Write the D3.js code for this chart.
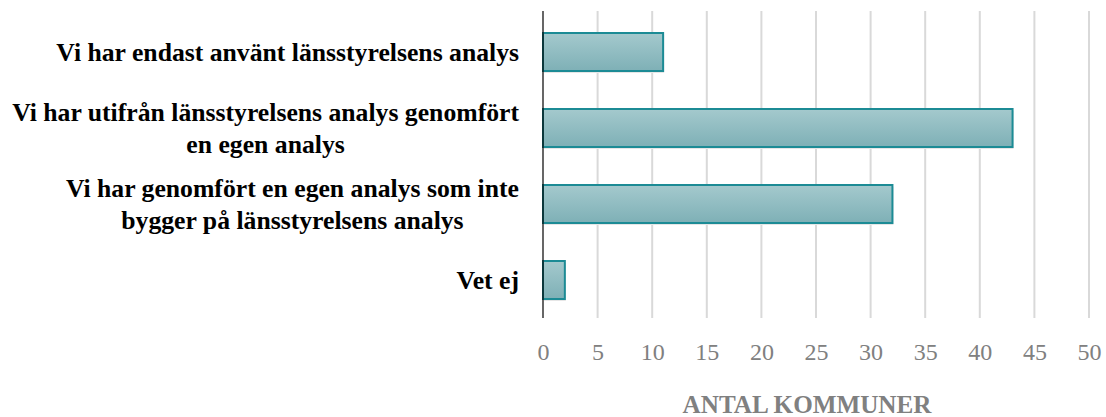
<!DOCTYPE html>
<html>
<head>
<meta charset="utf-8">
<script src="https://cdn.jsdelivr.net/npm/d3@7"></script>
<style>
  body { margin: 0; background: #fff; }
  text { font-family: "Liberation Serif", "DejaVu Serif", serif; }
</style>
</head>
<body>
<div id="chart"></div>
<script>
// chart data
var categories = [
  ["Vi har endast använt länsstyrelsens analys"],
  ["Vi har utifrån länsstyrelsens analys genomfört", "en egen analys"],
  ["Vi har genomfört en egen analys som inte", "bygger på länsstyrelsens analys"],
  ["Vet ej"]
];
var values = [11, 43, 32, 2];
var tickValues = [0, 5, 10, 15, 20, 25, 30, 35, 40, 45, 50];
var axisTitle = "ANTAL KOMMUNER";

var svgWidth = 1106;
var svgHeight = 417;

var margin = { top: 11, right: 17, bottom: 99, left: 543 };
var width = svgWidth - margin.left - margin.right;
var height = svgHeight - margin.top - margin.bottom;

var svg = d3.select("#chart")
  .append("svg")
  .attr("width", svgWidth)
  .attr("height", svgHeight);

// bar gradient
var defs = svg.append("defs");
var grad = defs.append("linearGradient")
  .attr("id", "barGrad")
  .attr("x1", 0).attr("y1", 0).attr("x2", 0).attr("y2", 1);
grad.append("stop").attr("offset", "0%").attr("stop-color", "#a4c9cd");
grad.append("stop").attr("offset", "100%").attr("stop-color", "#7eb0b6");

var chartGroup = svg.append("g")
  .attr("transform", `translate(${margin.left}, ${margin.top})`);

var xScale = d3.scaleLinear()
  .domain([0, 50])
  .range([0, width]);

var yScale = d3.scaleBand()
  .domain(d3.range(categories.length))
  .range([3, height])
  .paddingInner(0.5)
  .paddingOuter(0.25);

// gridlines
chartGroup.append("g")
  .selectAll("line")
  .data(tickValues.filter(d => d > 0))
  .enter()
  .append("line")
  .attr("x1", d => xScale(d))
  .attr("x2", d => xScale(d))
  .attr("y1", 0)
  .attr("y2", height)
  .attr("stroke", "#d9d9d9")
  .attr("stroke-width", 2);

// x tick labels via axis
var bottomAxis = d3.axisBottom(xScale)
  .tickValues(tickValues)
  .tickSize(0)
  .tickPadding(0);

var xAxisG = chartGroup.append("g")
  .attr("transform", `translate(0, ${height})`)
  .call(bottomAxis);
xAxisG.select(".domain").remove();
xAxisG.selectAll("text")
  .attr("y", 34)
  .attr("dy", "0.35em")
  .attr("font-size", 24)
  .attr("fill", "#808080");

// bars
var bars = chartGroup.selectAll(".bar")
  .data(values)
  .enter()
  .append("g")
  .attr("class", "bar");

bars.append("rect")
  .attr("x", 1)
  .attr("y", (d, i) => yScale(i) + 2)
  .attr("width", d => xScale(d))
  .attr("height", yScale.bandwidth())
  .attr("fill", "#e6e6e6");

bars.append("rect")
  .attr("x", 0)
  .attr("y", (d, i) => yScale(i))
  .attr("width", d => xScale(d))
  .attr("height", yScale.bandwidth())
  .attr("fill", "url(#barGrad)")
  .attr("stroke", "#1c8b95")
  .attr("stroke-width", 2);

// vertical axis line
chartGroup.append("line")
  .attr("x1", 0).attr("x2", 0)
  .attr("y1", 0).attr("y2", height)
  .attr("stroke", "#000")
  .attr("stroke-width", 1.2);

// category labels
var labelFont = 19;
var lineGap = 32;
var labels = chartGroup.selectAll(".cat")
  .data(categories)
  .enter()
  .append("text")
  .attr("class", "cat")
  .attr("font-size", labelFont)
  .attr("font-weight", "bold")
  .attr("fill", "#000")
  .attr("text-anchor", "middle");

labels.each(function(lines, i) {
  var t = d3.select(this);
  var cy = yScale(i) + yScale.bandwidth() / 2;
  lines.forEach(function(line, j) {
    t.append("tspan")
      .attr("y", cy + (j - (lines.length - 1) / 2) * lineGap)
      .attr("dy", "0.35em")
      .text(line);
  });
});

// fit font so the first label is as wide as in the picture, then right-align blocks
var w0 = labels.filter((d, i) => i === 0).node().getComputedTextLength();
labelFont = labelFont * 463 / w0;
labels.attr("font-size", labelFont);
labels.each(function(lines) {
  var t = d3.select(this);
  var widest = 0;
  t.selectAll("tspan").each(function() {
    widest = Math.max(widest, this.getComputedTextLength());
  });
  t.selectAll("tspan").attr("x", -24 - widest / 2);
});

// axis title, sized to the width it has in the picture
var title = chartGroup.append("text")
  .attr("x", 807 - margin.left)
  .attr("y", 413 - margin.top)
  .attr("text-anchor", "middle")
  .attr("font-size", 18)
  .attr("font-weight", "bold")
  .attr("fill", "#808080")
  .text(axisTitle);
var tw = title.node().getComputedTextLength();
title.attr("font-size", 18 * 249 / tw);
</script>
</body>
</html>
